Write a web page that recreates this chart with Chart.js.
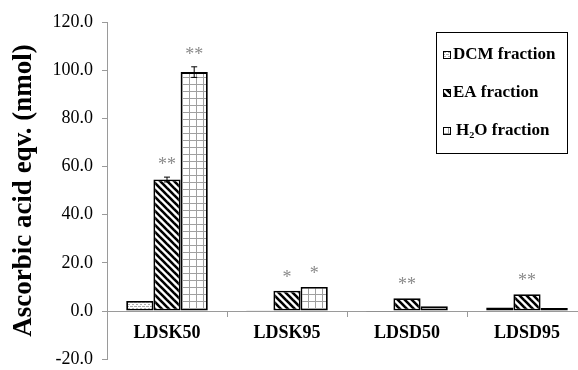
<!DOCTYPE html>
<html>
<head>
<meta charset="utf-8">
<script src="https://cdn.jsdelivr.net/npm/chart.js@4.4.1/dist/chart.umd.min.js"></script>
<style>
  html, body { margin: 0; padding: 0; background: #fff; overflow: hidden; }
  #wrap { width: 600px; height: 379px; }
</style>
</head>
<body>
<div id="wrap"><canvas id="grafica" width="600" height="379"></canvas></div>
<script>
// Datos
const categorias = ["LDSK50", "LDSK95", "LDSD50", "LDSD95"];
const dcm = [4.2, 0.3, -0.3, 1.5];
const ea = [54.6, 8.4, 5.3, 7.0];
const h2o = [99.2, 10.0, 2.0, 1.3];
const dcmErr = [0.3, 0.1, 0.1, 0.2];
const eaErr = [1.0, 0.3, 0.3, 0.3];
const h2oErr = [2.2, 0.4, 0.2, 0.2];
const dcmStars = ["", "", "", ""];
const eaStars = ["**", "*", "**", "**"];
const h2oStars = ["**", "*", "", ""];
const yTicks = [-20, 0, 20, 40, 60, 80, 100, 120];

const SERIF = "'Liberation Serif', 'DejaVu Serif', serif";
const GRIS = "#9a9a9a";

// Tramas de relleno
function trama(tipo) {
    const c = document.createElement("canvas");
    const g = c.getContext("2d");
    if (tipo === "dcm") {
        c.width = 4; c.height = 4;
        g.fillStyle = "#fff"; g.fillRect(0, 0, 4, 4);
        g.fillStyle = "#b0b0b0";
        g.fillRect(0, 0, 2, 1);
        g.fillRect(0, 2, 1, 1);
        g.fillRect(2, 2, 2, 1);
    } else if (tipo === "ea") {
        c.width = 7; c.height = 7;
        g.fillStyle = "#fff"; g.fillRect(0, 0, 7, 7);
        g.strokeStyle = "#000"; g.lineWidth = 2.6;
        for (let k = -7; k <= 7; k += 7) {
            g.beginPath(); g.moveTo(k - 1, -1); g.lineTo(k + 8, 8); g.stroke();
        }
    } else {
        c.width = 7; c.height = 7;
        g.fillStyle = "#fff"; g.fillRect(0, 0, 7, 7);
        g.fillStyle = "#a0a0a0";
        g.fillRect(0, 0, 7, 1);
        g.fillRect(0, 0, 1, 7);
    }
    return g.createPattern(c, "repeat");
}

const ctx = document.getElementById("grafica");
const patrones = [trama("dcm"), trama("ea"), trama("h2o")];
const errores = [dcmErr, eaErr, h2oErr];
const estrellas = [dcmStars, eaStars, h2oStars];

// Barras de error, asteriscos y leyenda
const extras = {
    id: "extras",
    afterDatasetsDraw(chart) {
        const g = chart.ctx;
        const y = chart.scales.y;
        g.save();
        chart.data.datasets.forEach((ds, i) => {
            chart.getDatasetMeta(i).data.forEach((bar, j) => {
                const v = ds.data[j];
                const e = errores[i][j];
                const x = bar.x;
                const yTop = y.getPixelForValue(v + e);
                const yBot = y.getPixelForValue(v - e);
                if (e > 0.5) {
                    g.strokeStyle = "#000"; g.lineWidth = 1;
                    g.beginPath();
                    g.moveTo(x, yTop); g.lineTo(x, yBot);
                    g.moveTo(x - 3, yTop); g.lineTo(x + 3, yTop);
                    g.moveTo(x - 3, yBot); g.lineTo(x + 3, yBot);
                    g.stroke();
                }
                const s = estrellas[i][j];
                if (s) {
                    g.fillStyle = "#8a8a8a";
                    g.font = "18px " + SERIF;
                    g.textAlign = "center";
                    g.textBaseline = "middle";
                    const top = Math.min(yTop, y.getPixelForValue(Math.max(v, 0)));
                    g.fillText(s, x, top - 12);
                }
            });
        });
        // Leyenda
        g.strokeStyle = "#000"; g.lineWidth = 1;
        g.strokeRect(436.5, 32.5, 131, 121);
        chart.data.datasets.forEach((ds, i) => {
            const cy = 55 + i * 38;
            g.fillStyle = patrones[i];
            g.fillRect(443, cy - 4, 8, 8);
            g.strokeStyle = "#000"; g.lineWidth = 1;
            g.strokeRect(443.5, cy - 3.5, 7, 7);
            g.fillStyle = "#000";
            g.font = "bold 17px " + SERIF;
            g.textAlign = "left";
            g.textBaseline = "middle";
            g.fillText(ds.label, i === 2 ? 456 : 453, cy);
        });
        g.restore();
    }
};

new Chart(ctx, {
    type: "bar",
    data: {
        labels: categorias,
        datasets: [
            { label: "DCM fraction", data: dcm, backgroundColor: patrones[0] },
            { label: "EA fraction", data: ea, backgroundColor: patrones[1] },
            { label: "H₂O fraction", data: h2o, backgroundColor: patrones[2] }
        ].map(d => ({
            ...d,
            borderColor: "#000",
            borderWidth: 1.8,
            borderSkipped: false,
            categoryPercentage: 0.68,
            barPercentage: 1
        }))
    },
    options: {
        responsive: false,
        animation: false,
        layout: { padding: { top: 22, bottom: 12, right: 13, left: 0 } },
        plugins: {
            legend: { display: false },
            tooltip: { enabled: false }
        },
        scales: {
            x: {
                position: { y: 0 },
                grid: {
                    drawOnChartArea: false,
                    color: GRIS,
                    tickLength: 5
                },
                border: { color: GRIS, width: 1 },
                ticks: {
                    color: "#000",
                    padding: 7,
                    font: { family: SERIF, size: 18, weight: "bold" }
                }
            },
            y: {
                min: -20,
                max: 120,
                afterBuildTicks: s => { s.ticks = yTicks.map(v => ({ value: v })); },
                afterFit: s => { s.width = 107; },
                grid: {
                    drawOnChartArea: false,
                    color: GRIS,
                    tickLength: 5
                },
                border: { color: GRIS, width: 1 },
                ticks: {
                    color: "#000",
                    padding: 9,
                    font: { family: SERIF, size: 18 },
                    callback: v => v.toFixed(1)
                },
                title: {
                    display: true,
                    text: "Ascorbic acid eqv. (nmol)",
                    color: "#000",
                    padding: { top: 8, bottom: 0 },
                    font: { family: SERIF, size: 27, weight: "bold" }
                }
            }
        }
    },
    plugins: [extras]
});
</script>
</body>
</html>
